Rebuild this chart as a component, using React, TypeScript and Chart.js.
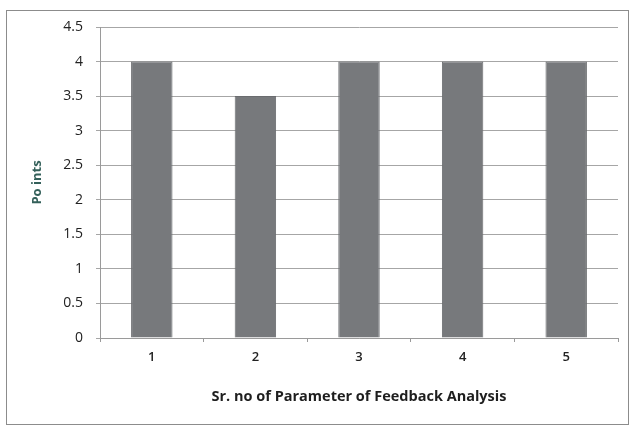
import React, { useEffect, useRef } from "react";
import { Chart, registerables } from "chart.js";

Chart.register(...registerables);

const categories = ["1", "2", "3", "4", "5"];
const points = [4, 3.5, 4, 4, 4];
const yTitle = "Po ints";
const xTitle = "Sr. no of Parameter of Feedback Analysis";

const FONT = "'Open Sans', Lato, sans-serif";

const framePlugin = {
  id: "frame",
  beforeDraw(chart: any) {
    const ctx = chart.ctx;
    ctx.save();
    ctx.fillStyle = "#ffffff";
    ctx.fillRect(0, 0, chart.width, chart.height);
    ctx.strokeStyle = "#8c8c8c";
    ctx.lineWidth = 1;
    ctx.strokeRect(6.5, 10.5, 622, 414);
    ctx.restore();
  },
};

export default function App() {
  const ref = useRef<HTMLCanvasElement | null>(null);
  useEffect(() => {
    if (!ref.current) return;
    const chart = new Chart(ref.current, {
      type: "bar",
      data: {
        labels: categories,
        datasets: [
          {
            label: "Points",
            data: points,
            backgroundColor: "#77797c",
            borderColor: "#6a6c6f",
            borderWidth: 1,
            barPercentage: 0.4,
            categoryPercentage: 1,
          },
        ],
      },
      options: {
        responsive: false,
        animation: false,
        devicePixelRatio: 1,
        layout: { padding: { left: 0, top: 27, right: 16, bottom: 0 } },
        plugins: {
          legend: { display: false },
          tooltip: { enabled: false },
        },
        scales: {
          x: {
            afterFit(scale: any) {
              scale.height = 90;
            },
            grid: {
              offset: true,
              drawOnChartArea: false,
              tickLength: 4,
              color: "#9a9a9a",
            },
            border: { color: "#9a9a9a" },
            ticks: {
              padding: 7,
              color: "#222222",
              font: { family: FONT, size: 13, weight: 600 },
            },
            title: {
              display: true,
              text: xTitle,
              color: "#1e1e1e",
              font: { family: FONT, size: 14.5, weight: "bold" },
              padding: { top: 0, bottom: 22 },
            },
          },
          y: {
            min: 0,
            max: 4.5,
            afterFit(scale: any) {
              scale.width = 100;
            },
            grid: {
              color: "#a6a6a6",
              tickLength: 4,
            },
            border: { color: "#9a9a9a" },
            ticks: {
              stepSize: 0.5,
              padding: 13,
              color: "#222222",
              font: { family: FONT, size: 14 },
              callback: (v: any) => String(v),
            },
            title: {
              display: true,
              text: yTitle,
              color: "#34605a",
              font: { family: FONT, size: 13, weight: "bold" },
              padding: { top: 29, bottom: 0 },
            },
          },
        },
      },
      plugins: [framePlugin],
    });
    return () => chart.destroy();
  }, []);
  return (
    <div style={{ position: "absolute", left: 0, top: 0, width: 634, height: 428 }}>
      <canvas ref={ref} width={634} height={428} />
    </div>
  );
}
